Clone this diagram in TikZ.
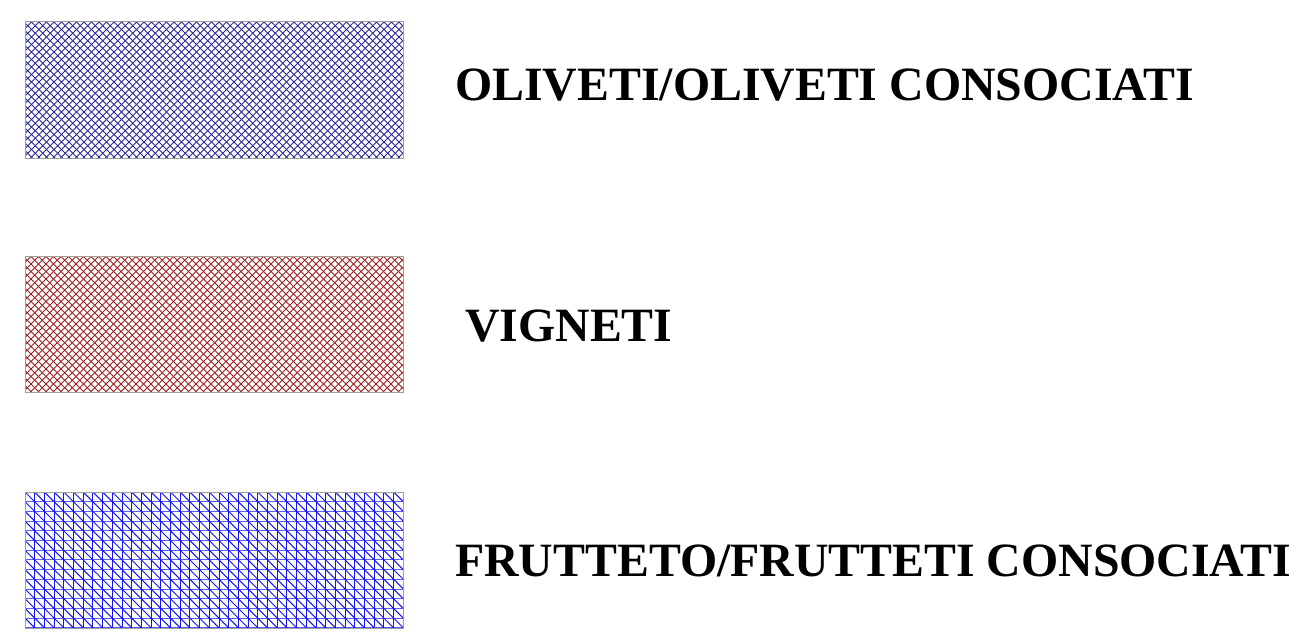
\documentclass[tikz,border=0pt]{standalone}
\usepackage{fontspec}
\setmainfont{Liberation Serif}
\definecolor{olivecol}{RGB}{40,40,150}
\definecolor{vinecol}{RGB}{160,30,30}
\definecolor{fruitcol}{RGB}{20,20,245}
\tikzset{
  framebox/.style={draw=gray!75, line width=1pt},
  hatch/.style={line width=1pt},
  legendtext/.style={anchor=base west, inner sep=0pt, font=\fontsize{47.8}{57}\selectfont\bfseries}
}
\begin{document}
\begin{tikzpicture}[x=1pt,y=-1pt]
    \useasboundingbox (0,0) rectangle (1302,641);

    % oliveti
    \begin{scope}
        \clip (25,21) rectangle (403,158);
        \foreach \i in {0,...,70} {
            \draw[hatch, olivecol] (25-137+\i*7.5,158) -- ++(137,-137);
            \draw[hatch, olivecol] (25-137+\i*7.5,21) -- ++(137,137);
        }
    \end{scope}
    \draw[framebox] (25,21) rectangle (403,158);

    % vigneti
    \begin{scope}
        \clip (25,256) rectangle (403,392);
        \foreach \i in {0,...,70} {
            \draw[hatch, vinecol] (25-137+\i*7.5,392) -- ++(137,-137);
            \draw[hatch, vinecol] (25-137+\i*7.5,256) -- ++(137,137);
        }
    \end{scope}
    \draw[framebox] (25,256) rectangle (403,392);

    % frutteti
    \begin{scope}
        \clip (25,492) rectangle (403,628);
        \foreach \i in {0,...,40}
            \draw[hatch, fruitcol] (25+\i*9.7,492) -- ++(0,136);
        \foreach \i in {0,...,15}
            \draw[hatch, fruitcol!70] (25,492+\i*9.7) -- ++(378,0);
        \foreach \i in {-15,...,40}
            \draw[hatch, fruitcol] (25+\i*9.7,492) -- ++(136,136);
    \end{scope}
    \draw[framebox] (25,492) rectangle (403,628);

    \node[legendtext] (olivelabel) at (455,100) {OLIVETI/OLIVETI CONSOCIATI};
    \node[legendtext] (vinelabel) at (465,341) {VIGNETI};
    \node[legendtext] (fruitlabel) at (455,576) {FRUTTETO/FRUTTETI CONSOCIATI};
\end{tikzpicture}
\end{document}
